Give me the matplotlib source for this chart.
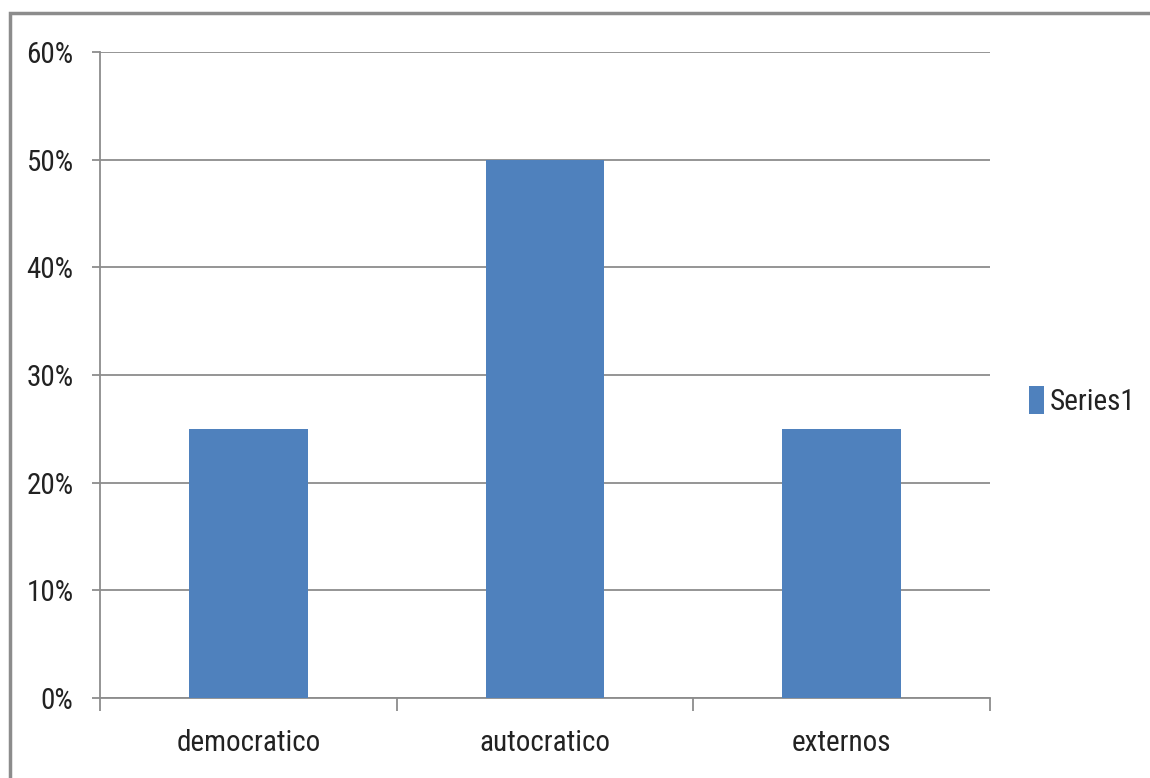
import matplotlib
matplotlib.use("Agg")
import matplotlib.pyplot as plt
from matplotlib.patches import Rectangle
from matplotlib.ticker import FuncFormatter, FixedLocator
from matplotlib import font_manager

categories = ["democratico", "autocratico", "externos"]
values = [0.25, 0.50, 0.25]
series_name = "Series1"
yticks = [0, 0.1, 0.2, 0.3, 0.4, 0.5, 0.6]

names = {f.name for f in font_manager.fontManager.ttflist}
fam = 'Lato'
for cand in ['Liberation Sans Narrow', 'Roboto Condensed', 'Open Sans Condensed', 'Lato']:
    if cand in names:
        fam = cand
        break
plt.rcParams['font.family'] = [fam, 'DejaVu Sans']
FS = 21

W, H = 1150, 778
fig = plt.figure(figsize=(W/100, H/100), dpi=100)
fig.patch.set_facecolor('white')

# outer border (extends beyond image on right/bottom)
fig.add_artist(Rectangle((10/W, -0.1), 1.2, 1 - 13/H + 0.1, transform=fig.transFigure,
                         fill=False, edgecolor='#8c8c8c', linewidth=2.5))

ax = fig.add_axes([100/W, 1 - 698/H, 890/W, (698-52)/H])
x = list(range(len(categories)))
ax.bar(x, values, width=0.4, color='#4F81BD', label=series_name, zorder=3)
ax.set_xlim(-0.5, len(categories) - 0.5)
ax.set_ylim(0, 0.6)

ax.yaxis.set_major_locator(FixedLocator(yticks))
ax.yaxis.set_major_formatter(FuncFormatter(lambda v, p: f"{v*100:.0f}%"))
ax.grid(axis='y', color='#8c8c8c', linewidth=1.3, zorder=0)
ax.set_axisbelow(True)

ax.set_xticks([i - 0.5 for i in range(len(categories) + 1)])
ax.set_xticklabels([])
ax.set_xticks(x, minor=True)
ax.set_xticklabels(categories, minor=True)
ax.tick_params(axis='x', which='major', length=9, width=1.3, color='#8c8c8c')
ax.tick_params(axis='x', which='minor', length=0, pad=22, labelsize=FS, labelcolor='#222222')
ax.tick_params(axis='y', length=6, width=1.3, color='#8c8c8c', labelsize=FS, labelcolor='#222222', pad=13)

for s in ['top', 'right']:
    ax.spines[s].set_visible(False)
for s in ['left', 'bottom']:
    ax.spines[s].set_color('#8c8c8c')
    ax.spines[s].set_linewidth(1.3)

leg = fig.legend(loc='center left', bbox_to_anchor=(1026/W, 1 - 401/H), frameon=False,
                 fontsize=FS, handlelength=0.5, handleheight=1.1, handletextpad=0.2,
                 labelcolor='#222222', borderpad=0.1, borderaxespad=0)

fig.savefig("out.png", dpi=100)
